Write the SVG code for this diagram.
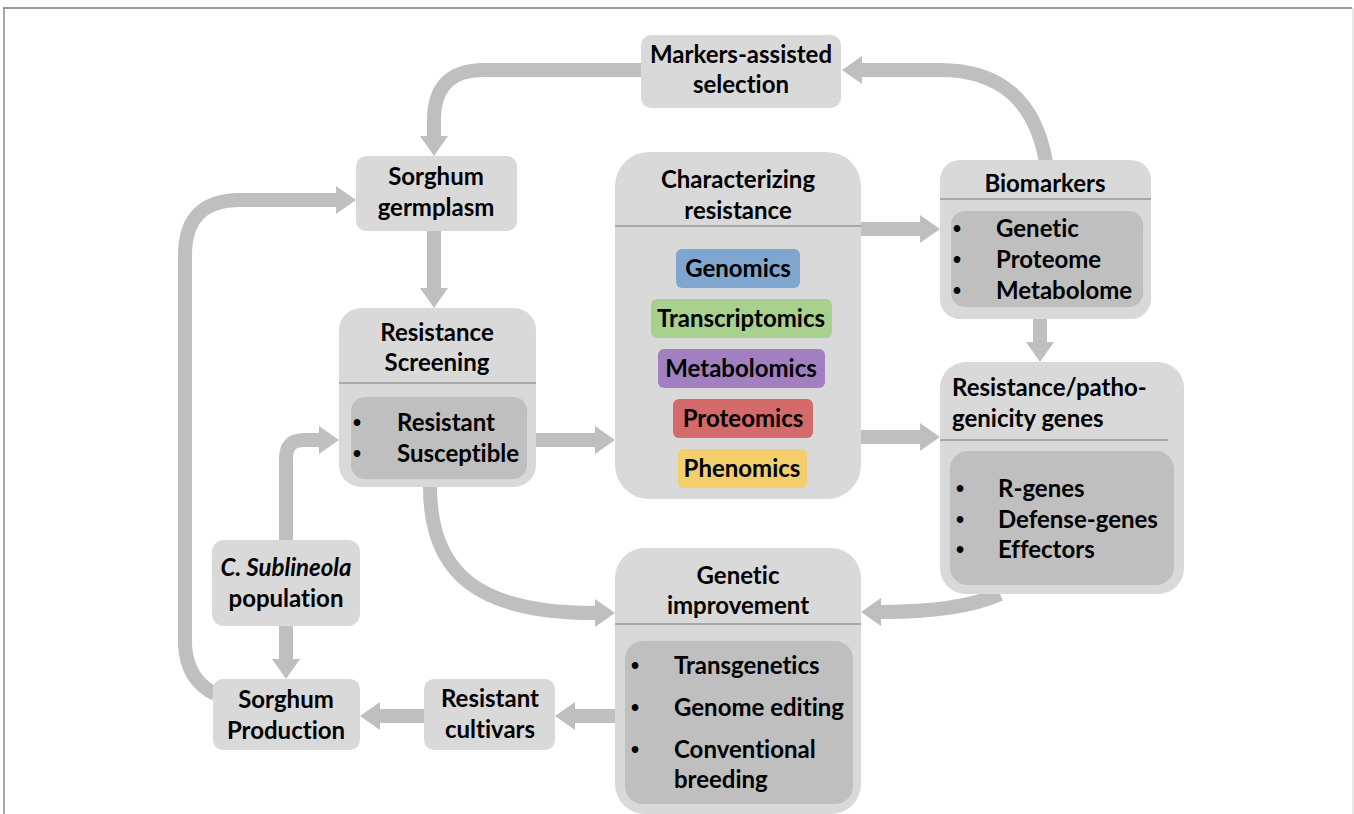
<svg xmlns="http://www.w3.org/2000/svg" width="1354" height="814" viewBox="0 0 1354 814">
<defs>
<style>
.n{fill:#d9d9d9}
.d{fill:#bfbfbf}
.div{stroke:#a8a8a8;stroke-width:2}
.t{font-family:Lato,"Liberation Sans",sans-serif;font-weight:bold;font-size:24px;fill:#000;font-variant-ligatures:none}
.b{font-family:"Liberation Sans",sans-serif;font-weight:bold;font-size:23px;fill:#000}
.c{text-anchor:middle}
.a{fill:none;stroke:#bfbfbf;stroke-width:14;marker-end:url(#ah)}
</style>
<marker id="ah" markerUnits="userSpaceOnUse" markerWidth="20" markerHeight="28" viewBox="0 0 20 28" refX="0" refY="14" orient="auto">
<path d="M0,0 L20,14 L0,28 z" fill="#bfbfbf"/>
</marker>
</defs>
<rect width="1354" height="814" fill="#fff"/>
<path d="M3,8 H1352" stroke="#7a7a7a" stroke-width="1.5"/>
<path d="M4,8 V814" stroke="#8a8a8a" stroke-width="1.5"/>
<path d="M1353,8 V814" stroke="#e0e0e0" stroke-width="1.5"/>

<g id="connectors">
<path class="a" d="M641,70 H484 Q434,70 434,120 V136"/>
<path class="a" d="M1046,162 Q1030,70 940,70 H862"/>
<path class="a" d="M434,231 V288"/>
<path class="a" d="M215,694 Q187,680 185,645 V255 Q185,200 240,200 H336"/>
<path class="a" d="M286,540 V458 Q286,440 304,440 H319"/>
<path class="a" d="M286,626 V659"/>
<path class="a" d="M430,487 C430,575 480,613 595,613"/>
<path class="a" d="M536,440 H595"/>
<path class="a" d="M861,229 H920"/>
<path class="a" d="M861,437 H920"/>
<path class="a" d="M1040,319 V342"/>
<path class="a" d="M1000,594 Q960,612 881,612"/>
<path class="a" d="M615,716 H575"/>
<path class="a" d="M424,716 H380"/>
</g>

<g id="markers-assisted">
<rect class="n" x="641" y="35" width="200" height="73" rx="10"/>
<text class="t c" x="741" y="63">Markers-assisted</text>
<text class="t c" x="741" y="93">selection</text>
</g>

<g id="germplasm">
<rect class="n" x="356" y="156" width="161" height="75" rx="10"/>
<text class="t c" x="436" y="185">Sorghum</text>
<text class="t c" x="436" y="216">germplasm</text>
</g>

<g id="characterizing">
<rect class="n" x="615" y="152" width="246" height="347" rx="34"/>
<line class="div" x1="615" y1="226" x2="861" y2="226"/>
<text class="t c" x="738" y="188">Characterizing</text>
<text class="t c" x="738" y="219">resistance</text>
<rect x="676" y="249" width="124" height="39" rx="6" fill="#7ea6cf"/>
<text class="t c" x="738" y="277">Genomics</text>
<rect x="651" y="299" width="181" height="39" rx="6" fill="#a9d18e"/>
<text class="t c" x="741" y="327">Transcriptomics</text>
<rect x="658" y="349" width="167" height="39" rx="6" fill="#a17fc0"/>
<text class="t c" x="741" y="377">Metabolomics</text>
<rect x="673" y="399" width="140" height="39" rx="6" fill="#d46a6a"/>
<text class="t c" x="743" y="427">Proteomics</text>
<rect x="678" y="449" width="129" height="39" rx="6" fill="#f2cf6b"/>
<text class="t c" x="742" y="477">Phenomics</text>
</g>

<g id="biomarkers">
<rect class="n" x="940" y="160" width="211" height="159" rx="20"/>
<line class="div" x1="940" y1="199" x2="1151" y2="199"/>
<text class="t c" x="1045" y="192">Biomarkers</text>
<rect class="d" x="951" y="211" width="192" height="96" rx="14"/>
<text class="b" x="953" y="237">•</text>
<text class="t" x="996" y="237">Genetic</text>
<text class="b" x="953" y="268">•</text>
<text class="t" x="996" y="268">Proteome</text>
<text class="b" x="953" y="299">•</text>
<text class="t" x="996" y="299">Metabolome</text>
</g>

<g id="resistance-screening">
<rect class="n" x="339" y="308" width="197" height="179" rx="22"/>
<line class="div" x1="339" y1="383" x2="536" y2="383"/>
<text class="t c" x="437" y="341">Resistance</text>
<text class="t c" x="437" y="371">Screening</text>
<rect class="d" x="351" y="397" width="176" height="82" rx="14"/>
<text class="b" x="353" y="431">•</text>
<text class="t" x="397" y="431">Resistant</text>
<text class="b" x="353" y="462">•</text>
<text class="t" x="397" y="462">Susceptible</text>
</g>

<g id="resistance-genes">
<rect class="n" x="940" y="362" width="244" height="232" rx="26"/>
<line class="div" x1="940" y1="440" x2="1168" y2="440"/>
<text class="t" x="952" y="396">Resistance/patho-</text>
<text class="t" x="952" y="427">genicity genes</text>
<rect class="d" x="950" y="451" width="224" height="134" rx="18"/>
<text class="b" x="956" y="497">•</text>
<text class="t" x="998" y="497">R-genes</text>
<text class="b" x="956" y="528">•</text>
<text class="t" x="998" y="528">Defense-genes</text>
<text class="b" x="956" y="558">•</text>
<text class="t" x="998" y="558">Effectors</text>
</g>

<g id="genetic-improvement">
<rect class="n" x="615" y="548" width="246" height="266" rx="30"/>
<line class="div" x1="615" y1="624" x2="861" y2="624"/>
<text class="t c" x="738" y="584">Genetic</text>
<text class="t c" x="738" y="614">improvement</text>
<rect class="d" x="625" y="641" width="228" height="163" rx="18"/>
<text class="b" x="631" y="674">•</text>
<text class="t" x="674" y="674">Transgenetics</text>
<text class="b" x="631" y="716">•</text>
<text class="t" x="674" y="716">Genome editing</text>
<text class="b" x="631" y="758">•</text>
<text class="t" x="674" y="758">Conventional</text>
<text class="t" x="674" y="788">breeding</text>
</g>

<g id="c-sublineola">
<rect class="n" x="212" y="540" width="148" height="86" rx="12"/>
<text class="t c" x="286" y="576" font-style="italic">C. Sublineola</text>
<text class="t c" x="286" y="607">population</text>
</g>

<g id="sorghum-production">
<rect class="n" x="213" y="679" width="147" height="71" rx="10"/>
<text class="t c" x="286" y="708">Sorghum</text>
<text class="t c" x="286" y="739">Production</text>
</g>

<g id="resistant-cultivars">
<rect class="n" x="424" y="679" width="131" height="71" rx="10"/>
<text class="t c" x="490" y="707">Resistant</text>
<text class="t c" x="490" y="738">cultivars</text>
</g>
</svg>
